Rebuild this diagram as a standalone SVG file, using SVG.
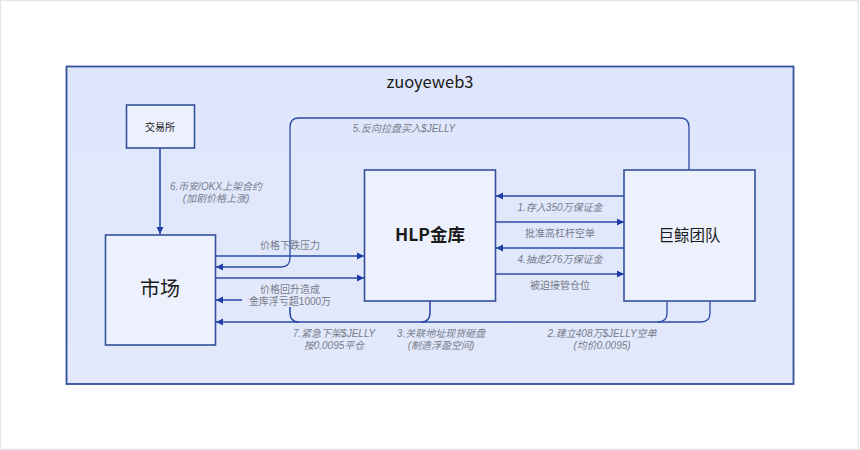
<svg xmlns="http://www.w3.org/2000/svg" width="860" height="450" viewBox="0 0 860 450">
<style>
.n{fill:#edf1fd;stroke:#33509a;stroke-width:1.6}
.c{fill:none;stroke:#2a4ba6;stroke-width:1.6}
.l{font:italic 10px "Liberation Sans","Noto Sans CJK SC",sans-serif;fill:#767c8a;text-anchor:middle}
.r{font-style:normal}
.t{font-family:"Noto Sans CJK SC","Liberation Sans",sans-serif;fill:#1a1a1a;text-anchor:middle}
.lb{fill:#e3e9fb}
</style>
<defs>
<marker id="a" markerUnits="userSpaceOnUse" markerWidth="7" markerHeight="8" refX="7" refY="4" orient="auto"><path d="M0 .5L7 4L0 7.500z" fill="#1f3fa8"/></marker>
<linearGradient id="bg" x1="0" y1="0" x2="0" y2="1"><stop offset="0" stop-color="#dfe6fc"/><stop offset="1" stop-color="#e3e9fb"/></linearGradient>
</defs>
<rect width="860" height="450" fill="#fff"/>
<rect x="0.5" y="0.5" width="858" height="449" fill="none" stroke="#e6e6e6" stroke-width="1.5"/>
<g id="frame">
<rect x="66.500" y="66.500" width="727" height="317.500" fill="url(#bg)" stroke="#33509a" stroke-width="1.800"/>
<text class="t" x="430" y="87.500" font-size="16.500">zuoyeweb3</text>
</g>
<g id="connectors">
<path class="c" marker-end="url(#a)" d="M160 148V234"/>
<path class="c" style="stroke-width:1.300" marker-end="url(#a)" d="M689 170V127Q689 118 680 118H299Q290 118 290 127V258Q290 267 281 267H216"/>
<path class="c" marker-end="url(#a)" d="M216 256H364"/>
<path class="c" marker-end="url(#a)" d="M216 278H364"/>
<path class="c" marker-end="url(#a)" d="M299 322Q290 322 290 313V300H216"/>
<path class="c" marker-end="url(#a)" d="M430 301V313Q430 322 421 322H216"/>
<path class="c" style="stroke-width:1.300" d="M667 301V313Q667 322 658 322H421"/>
<path class="c" style="stroke-width:1.300" d="M710 301V313Q710 322 701 322H658"/>
<path class="c" marker-end="url(#a)" d="M624 196H496"/>
<path class="c" marker-end="url(#a)" d="M496 222H624"/>
<path class="c" marker-end="url(#a)" d="M624 248H496"/>
<path class="c" marker-end="url(#a)" d="M496 274H624"/>
</g>
<g id="labels">
<rect class="lb" x="242" y="283" width="92" height="24"/>
<text class="l" x="216" y="190">6.币安/OKX上架合约<tspan x="216" dy="12">(加剧价格上涨)</tspan></text>
<text class="l" x="404" y="132">5.反向拉盘买入$JELLY</text>
<text class="l r" x="290" y="249">价格下跌压力</text>
<text class="l r" x="290" y="293">价格回升造成<tspan x="290" dy="12">金库浮亏超1000万</tspan></text>
<text class="l" x="334" y="337">7.紧急下架$JELLY<tspan x="334" dy="12">按0.0095平仓</tspan></text>
<text class="l" x="441" y="337">3.关联地址现货砸盘<tspan x="441" dy="12">(制造浮盈空间)</tspan></text>
<text class="l" x="602" y="337">2.建立408万$JELLY空单<tspan x="602" dy="12">(均价0.0095)</tspan></text>
<text class="l" x="560" y="211">1.存入350万保证金</text>
<text class="l r" x="560" y="237">批准高杠杆空单</text>
<text class="l" x="560" y="263">4.抽走276万保证金</text>
<text class="l r" x="560" y="289">被迫接管仓位</text>
</g>
<g id="exchange"><rect class="n" x="126.500" y="105" width="68" height="43"/><text class="t" x="160" y="131" font-size="10">交易所</text></g>
<g id="market"><rect class="n" x="105.500" y="235" width="110" height="110"/><text class="t" x="160" y="296" font-size="20">市场</text></g>
<g id="hlp"><rect class="n" x="364.500" y="170" width="131" height="131"/><text class="t" x="430" y="241" font-size="17.500" font-weight="700">HLP金库</text></g>
<g id="whale"><rect class="n" x="624" y="170" width="131" height="131"/><text class="t" x="689.500" y="241" font-size="15.500">巨鲸团队</text></g>
</svg>
